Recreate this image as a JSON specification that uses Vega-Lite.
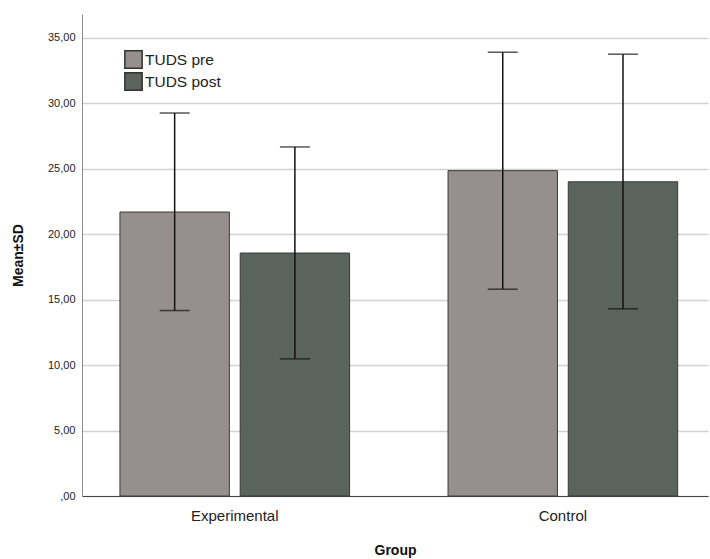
{
  "$schema": "https://vega.github.io/schema/vega-lite/v6.json",
  "width": 626,
  "height": 482,
  "autosize": {"type": "none"},
  "padding": {"left": 82, "top": 14, "right": 2, "bottom": 63},
  "background": "white",
  "config": {
    "view": {"stroke": null},
    "font": "Liberation Sans"
  },
  "data": {
    "values": [
      {"group": "Experimental", "time": "TUDS pre", "mean": 21.68, "lo": 14.16, "hi": 29.24},
      {"group": "Experimental", "time": "TUDS post", "mean": 18.55, "lo": 10.47, "hi": 26.65},
      {"group": "Control", "time": "TUDS pre", "mean": 24.84, "lo": 15.79, "hi": 33.88},
      {"group": "Control", "time": "TUDS post", "mean": 23.99, "lo": 14.29, "hi": 33.73}
    ]
  },
  "encoding": {
    "x": {
      "field": "group",
      "type": "nominal",
      "sort": ["Experimental", "Control"],
      "scale": {"paddingInner": 0.3, "paddingOuter": 0.104, "align": 0.556},
      "axis": {
        "title": "Group",
        "labelAngle": 0,
        "ticks": false,
        "labelPadding": 12,
        "labelFontSize": 15,
        "labelColor": "#222",
        "titleFontSize": 14,
        "titleFontWeight": "bold",
        "titleColor": "#111",
        "titlePadding": 20,
        "domainColor": "#444",
        "domainWidth": 1,
        "grid": false
      }
    },
    "xOffset": {
      "field": "time",
      "type": "nominal",
      "sort": ["TUDS pre", "TUDS post"],
      "scale": {"paddingInner": 0.09, "paddingOuter": 0}
    }
  },
  "layer": [
    {
      "mark": {"type": "bar", "stroke": "#3a3a3a", "strokeWidth": 1},
      "encoding": {
        "y": {
          "field": "mean",
          "type": "quantitative",
          "scale": {"domain": [0, 36.8], "nice": false},
          "axis": {
            "title": "Mean±SD",
            "values": [0, 5, 10, 15, 20, 25, 30, 35],
            "labelExpr": "datum.value == 0 ? ',00' : replace(format(datum.value, '.2f'), '.', ',')",
            "ticks": false,
            "labelPadding": 7,
            "labelFontSize": 11,
            "labelColor": "#222",
            "titleFontSize": 14,
            "titleFontWeight": "bold",
            "titleColor": "#111",
            "titlePadding": 22,
            "domainColor": "#8a8a8a",
            "domainWidth": 1,
            "grid": true,
            "gridColor": "#d2d2d2",
            "gridWidth": 1.5
          }
        },
        "color": {
          "field": "time",
          "type": "nominal",
          "scale": {"domain": ["TUDS pre", "TUDS post"], "range": ["#958f8d", "#5a635d"]},
          "legend": {
            "title": null,
            "orient": "none",
            "legendX": 42,
            "legendY": 36,
            "symbolType": "square",
            "symbolSize": 300,
            "symbolStrokeColor": "#333",
            "symbolStrokeWidth": 1.5,
            "symbolOpacity": 1,
            "labelFontSize": 15.5,
            "labelColor": "#222",
            "labelOffset": 2,
            "rowPadding": -3
          }
        }
      }
    },
    {
      "mark": {"type": "rule", "color": "#111", "strokeWidth": 1.5},
      "encoding": {
        "y": {"field": "lo", "type": "quantitative"},
        "y2": {"field": "hi"}
      }
    },
    {
      "mark": {"type": "tick", "color": "#111", "size": 30, "thickness": 1.5},
      "encoding": {"y": {"field": "hi", "type": "quantitative"}}
    },
    {
      "mark": {"type": "tick", "color": "#111", "size": 30, "thickness": 1.5},
      "encoding": {"y": {"field": "lo", "type": "quantitative"}}
    }
  ]
}
